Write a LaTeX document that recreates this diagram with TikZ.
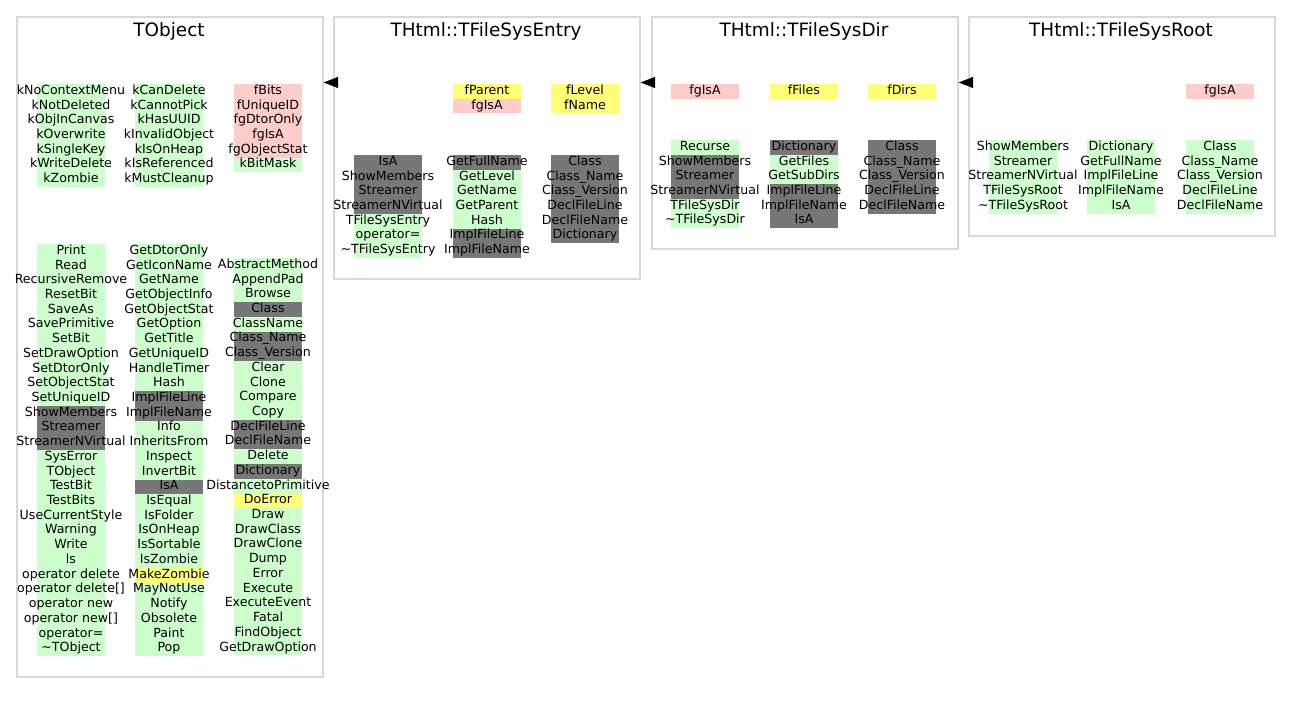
\documentclass[tikz,border=0pt]{standalone}
\usepackage{fontspec}
\setmainfont{DejaVu Sans}
\usetikzlibrary{arrows.meta}

\definecolor{mgreen}{HTML}{CCFFCC}
\definecolor{mpink}{HTML}{FFCCCC}
\definecolor{myellow}{HTML}{FFFF77}
\definecolor{mgray}{HTML}{777777}
\definecolor{clgray}{HTML}{D8D8D8}

\tikzset{
  member/.style={inner sep=0pt, minimum width=68pt, minimum height=14.72pt,
    text height=9.0pt, text depth=3.1pt, font=\fontsize{12.6}{14}\selectfont},
  cluster/.style={draw=clgray, line width=1.6pt, inner sep=0pt, anchor=north west},
  ctitle/.style={inner sep=0pt, font=\fontsize{18.4}{20}\selectfont},
  inherit/.style={-{Triangle[length=14.5pt,width=11pt]}, line width=0.6pt}
}

% one column of class members: name, left x, top y, list of colour/text
\newcommand\memcol[4]{%
  \foreach [count=\i] \rowcol/\rowtxt in {#4}{%
    \node[member, fill=\rowcol] (#1-\i) at ({#2+34},{#3+(\i-0.5)*14.72})
      {\makebox[68pt]{\rowtxt}};
  }%
}

\begin{document}
\begin{tikzpicture}[x=1pt, y=-1pt]
\useasboundingbox (0,0) rectangle (1291,703);

% class frames
\node[cluster, minimum width=306pt, minimum height=660pt] (tobj) at (16,16) {};
\node[cluster, minimum width=306pt, minimum height=262pt] (entry) at (333,16) {};
\node[cluster, minimum width=306pt, minimum height=232pt] (dir) at (651,16) {};
\node[cluster, minimum width=306pt, minimum height=219pt] (root) at (968,16) {};

% class titles
\node[ctitle] (tobj-t) at (169,31) {TObject};
\node[ctitle] (entry-t) at (486,31) {THtml::TFileSysEntry};
\node[ctitle] (dir-t) at (804,31) {THtml::TFileSysDir};
\node[ctitle] (root-t) at (1121,31) {THtml::TFileSysRoot};

% TObject
\memcol{tobjA}{37}{84}{mgreen/kNoContextMenu, mgreen/kNotDeleted, mgreen/kObjInCanvas,
  mgreen/kOverwrite, mgreen/kSingleKey, mgreen/kWriteDelete, mgreen/kZombie}
\memcol{tobjB}{135}{84}{mgreen/kCanDelete, mgreen/kCannotPick, mgreen/kHasUUID,
  mgreen/kInvalidObject, mgreen/kIsOnHeap, mgreen/kIsReferenced, mgreen/kMustCleanup}
\memcol{tobjC}{234}{84}{mpink/fBits, mpink/fUniqueID, mpink/fgDtorOnly, mpink/fgIsA,
  mpink/fgObjectStat, mgreen/kBitMask}
\memcol{tobjMA}{37}{244}{mgreen/Print, mgreen/Read, mgreen/RecursiveRemove, mgreen/ResetBit,
  mgreen/SaveAs, mgreen/SavePrimitive, mgreen/SetBit, mgreen/SetDrawOption,
  mgreen/SetDtorOnly, mgreen/SetObjectStat, mgreen/SetUniqueID, mgray/ShowMembers,
  mgray/Streamer, mgray/StreamerNVirtual, mgreen/SysError, mgreen/TObject,
  mgreen/TestBit, mgreen/TestBits, mgreen/UseCurrentStyle, mgreen/Warning,
  mgreen/Write, mgreen/ls, mgreen/operator delete, mgreen/operator delete[],
  mgreen/operator new, mgreen/operator new[], mgreen/operator=, mgreen/\textasciitilde TObject}
\memcol{tobjMB}{135}{244}{mgreen/GetDtorOnly, mgreen/GetIconName, mgreen/GetName,
  mgreen/GetObjectInfo, mgreen/GetObjectStat, mgreen/GetOption, mgreen/GetTitle,
  mgreen/GetUniqueID, mgreen/HandleTimer, mgreen/Hash, mgray/ImplFileLine,
  mgray/ImplFileName, mgreen/Info, mgreen/InheritsFrom, mgreen/Inspect,
  mgreen/InvertBit, mgray/IsA, mgreen/IsEqual, mgreen/IsFolder, mgreen/IsOnHeap,
  mgreen/IsSortable, mgreen/IsZombie, myellow/MakeZombie, mgreen/MayNotUse,
  mgreen/Notify, mgreen/Obsolete, mgreen/Paint, mgreen/Pop}
\memcol{tobjMC}{234}{258}{mgreen/AbstractMethod, mgreen/AppendPad, mgreen/Browse,
  mgray/Class, mgreen/ClassName, mgray/Class\_Name, mgray/Class\_Version, mgreen/Clear,
  mgreen/Clone, mgreen/Compare, mgreen/Copy, mgray/DeclFileLine, mgray/DeclFileName,
  mgreen/Delete, mgray/Dictionary, mgreen/DistancetoPrimitive, myellow/DoError,
  mgreen/Draw, mgreen/DrawClass, mgreen/DrawClone, mgreen/Dump, mgreen/Error,
  mgreen/Execute, mgreen/ExecuteEvent, mgreen/Fatal, mgreen/FindObject, mgreen/GetDrawOption}

% THtml::TFileSysEntry
\memcol{entryB}{453}{84}{myellow/fParent, mpink/fgIsA}
\memcol{entryC}{551}{84}{myellow/fLevel, myellow/fName}
\memcol{entryMA}{354}{155}{mgray/IsA, mgray/ShowMembers, mgray/Streamer,
  mgray/StreamerNVirtual, mgreen/TFileSysEntry, mgreen/operator=,
  mgreen/\textasciitilde TFileSysEntry}
\memcol{entryMB}{453}{155}{mgray/GetFullName, mgreen/GetLevel, mgreen/GetName,
  mgreen/GetParent, mgreen/Hash, mgray/ImplFileLine, mgray/ImplFileName}
\memcol{entryMC}{551}{155}{mgray/Class, mgray/Class\_Name, mgray/Class\_Version,
  mgray/DeclFileLine, mgray/DeclFileName, mgray/Dictionary}

% THtml::TFileSysDir
\memcol{dirA}{671}{84}{mpink/fgIsA}
\memcol{dirB}{770}{84}{myellow/fFiles}
\memcol{dirC}{868}{84}{myellow/fDirs}
\memcol{dirMA}{671}{140}{mgreen/Recurse, mgray/ShowMembers, mgray/Streamer,
  mgray/StreamerNVirtual, mgreen/TFileSysDir, mgreen/\textasciitilde TFileSysDir}
\memcol{dirMB}{770}{140}{mgray/Dictionary, mgreen/GetFiles, mgreen/GetSubDirs,
  mgray/ImplFileLine, mgray/ImplFileName, mgray/IsA}
\memcol{dirMC}{868}{140}{mgray/Class, mgray/Class\_Name, mgray/Class\_Version,
  mgray/DeclFileLine, mgray/DeclFileName}

% THtml::TFileSysRoot
\memcol{rootC}{1186}{84}{mpink/fgIsA}
\memcol{rootMA}{989}{140}{mgreen/ShowMembers, mgreen/Streamer, mgreen/StreamerNVirtual,
  mgreen/TFileSysRoot, mgreen/\textasciitilde TFileSysRoot}
\memcol{rootMB}{1087}{140}{mgreen/Dictionary, mgreen/GetFullName, mgreen/ImplFileLine,
  mgreen/ImplFileName, mgreen/IsA}
\memcol{rootMC}{1186}{140}{mgreen/Class, mgreen/Class\_Name, mgreen/Class\_Version,
  mgreen/DeclFileLine, mgreen/DeclFileName}

% inheritance arrows
\coordinate (entry-in) at (336.5,82.5);
\coordinate (dir-in) at (653.5,82.5);
\coordinate (root-in) at (970.5,82.5);
\draw[inherit] (entry-in) -- (tobj.east |- entry-in);
\draw[inherit] (dir-in) -- (entry.east |- dir-in);
\draw[inherit] (root-in) -- (dir.east |- root-in);

\end{tikzpicture}
\end{document}
